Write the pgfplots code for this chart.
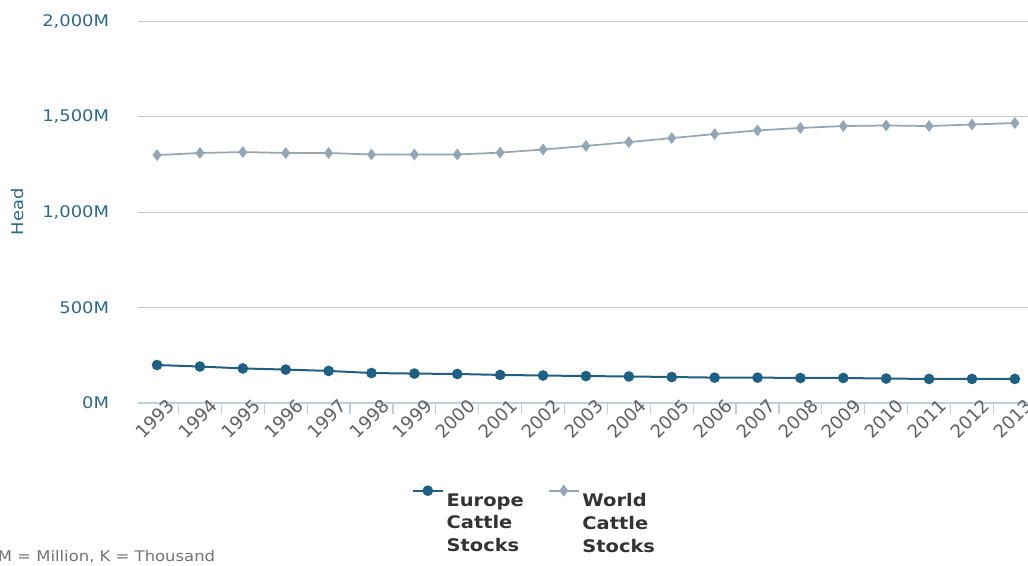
\documentclass[border=0pt]{standalone}
\usepackage{fontspec}
\setmainfont{DejaVu Sans}[FakeStretch=1.12]
\newfontfamily\plainf{DejaVu Sans}
\usepackage{pgfplots}
\pgfplotsset{compat=1.18}
\definecolor{eur}{HTML}{1F5F82}
\definecolor{wld}{HTML}{94A6B5}
\definecolor{axisc}{HTML}{C0CFE0}
\definecolor{gridc}{HTML}{C8C8C8}
\definecolor{ytc}{HTML}{2B6A88}
\definecolor{xtc}{HTML}{606060}
\begin{document}
\begin{tikzpicture}
\begin{axis}[
  at={(0,0)}, anchor=south west, scale only axis,
  width=667.5pt, height=286.5pt,
  xmin=-0.45, xmax=20.3, ymin=0, ymax=2000,
  clip=false,
  axis x line*=bottom, axis y line*=left,
  y axis line style={draw=none},
  x axis line style={color=axisc, line width=0.9pt, -},
  xtick={0,...,20},
  xticklabels={1993,1994,1995,1996,1997,1998,1999,2000,2001,2002,2003,2004,2005,2006,2007,2008,2009,2010,2011,2012,2013},
  major x tick style={draw=none},
  minor xtick={-0.5,0.5,...,19.5},
  minor x tick style={color=axisc, line width=0.9pt},
  xtick align=outside, minor tick length=8pt, major tick length=0pt,
  x tick label style={rotate=45, anchor=north east, font=\plainf\fontsize{13.5}{15}\selectfont, text=xtc, xshift=9pt, yshift=-1pt, inner sep=1pt},
  ytick={0,500,1000,1500,2000},
  yticklabels={0M,500M,{1,000M},{1,500M},{2,000M}},
  y tick label style={font=\fontsize{12}{14}\selectfont, text=ytc, anchor=east, xshift=-18pt},
  ytick style={draw=none},
  ymajorgrids, grid style={color=gridc, line width=0.75pt},
  ylabel={Head},
  ylabel style={at={(axis description cs:-0.1345,0.5)}, anchor=center, font=\fontsize{12}{14}\selectfont, text=ytc},
  legend columns=2,
  legend image code/.code={\draw[mark repeat=2,mark phase=2,#1] plot coordinates {(0cm,0cm)(0.4cm,0cm)(0.8cm,0cm)};},
  legend style={draw=none, at={(0.446,-0.21)}, anchor=north, font=\bfseries\fontsize{13}{17}\selectfont, text=black!80, cells={align=left, anchor=north west}, /tikz/every even column/.append style={column sep=16pt}},
]
\addplot[color=eur, line width=1.5pt, mark=*, mark size=3.2pt, mark options={fill=eur, draw=eur}] coordinates {
(0,199)(1,191)(2,181)(3,175)(4,168)(5,157)(6,154)(7,152)(8,147)(9,144)(10,141)(11,139)(12,136)(13,133)(14,133)(15,131)(16,131)(17,128)(18,126)(19,126)(20,126)};
\addlegendentry{Europe\\Cattle\\Stocks}
\addplot[color=wld, line width=1.3pt, mark=diamond*, mark size=3.4pt, mark options={fill=wld, draw=wld}] coordinates {
(0,1298)(1,1309)(2,1314)(3,1309)(4,1309)(5,1301)(6,1301)(7,1301)(8,1311)(9,1327)(10,1346)(11,1366)(12,1387)(13,1408)(14,1427)(15,1440)(16,1450)(17,1453)(18,1450)(19,1458)(20,1466)};
\addlegendentry{World\\Cattle\\Stocks}
\end{axis}
\node[anchor=base west, text=black!55, font=\fontsize{11}{12}\selectfont, inner sep=0pt] at (-105pt,-118.5pt) {M = Million, K = Thousand};
\pgfresetboundingbox
\path (-103.3pt,-121.5pt) rectangle (667.7pt,302.25pt);
\end{tikzpicture}
\end{document}
